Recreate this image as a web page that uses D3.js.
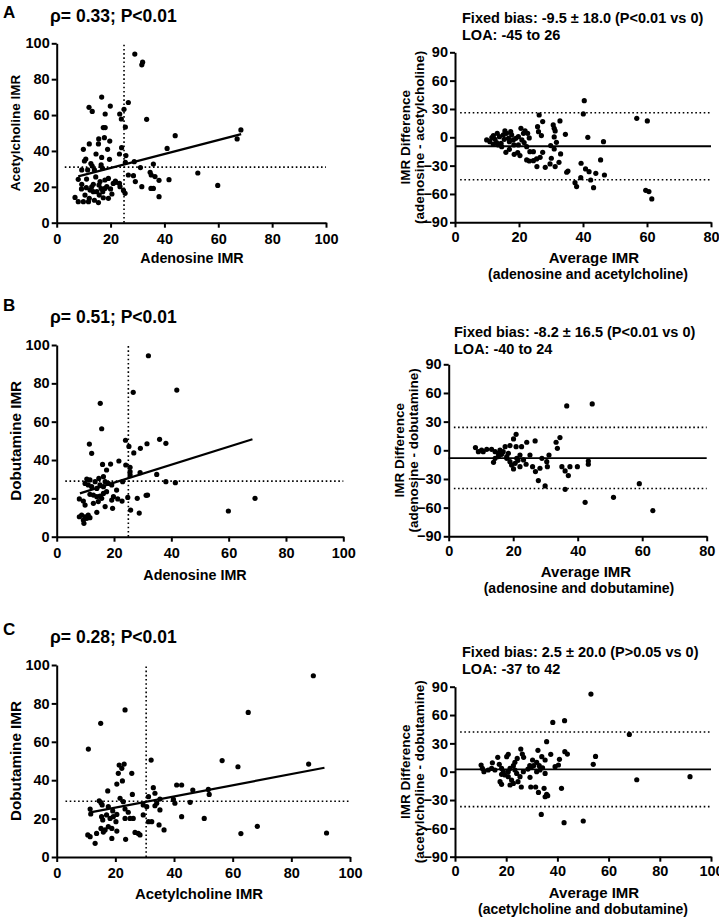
<!DOCTYPE html>
<html><head><meta charset="utf-8">
<script src="https://cdn.jsdelivr.net/npm/d3@7"></script>
<style>body{margin:0;background:#fff} svg{display:block}</style>
</head><body><svg id="c" width="719" height="918"></svg>
<script>
// ---------------- DATA ----------------
// Panel A: correlation (x = adenosine IMR, y = acetylcholine IMR)
const corrA = [[29,94],[31.6,88],[31.9,89.5],[16.7,70],[12,64.3],[13.2,62],[19.9,65],[26.6,67],[18,60.6],[23.4,60.6],[25,63.2],[24,57.8],[33.4,57.6],[17.3,53],[18,53],[25.5,53.3],[17.7,47.4],[15.6,46.7],[19.7,45.5],[12.1,43.9],[15.5,43.9],[44,48.5],[68.4,51.7],[67,46.7],[41,41.4],
[9.9,40.9],[18.9,40.9],[24.1,41.8],[14.6,38.3],[23.3,38.3],[25.7,37.4],[10.8,35.5],[16.7,36.4],[19.6,35.3],[10.3,34.4],[16.5,32.2],[13.2,31.6],[28.8,34],[25.5,33.6],[11.5,29.4],[9.3,29.4],[14,29.4],[17,30.3],[31.1,30.7],[35.9,32.7],[26.6,26.6],[28.5,26.2],[34.7,28.1],[35.1,26.6],[36.5,25.7],[38,23.6],[41.7,24],[52.4,27.7],[29.2,22.9],[8,24.2],[11.1,24.3],[19.2,24.7],[21.8,23.2],[23.3,21.9],[6.8,14.1],[8,11.7],[9.9,11.7],[11.8,11.7],[10.5,15.4],[9.2,18.8],[12.4,18.2],[13.6,17.3],[14.9,17.3],[15.8,15.4],[17.1,17.3],[17.9,19.1],[18.6,20.1],[19.2,13.6],[20,18.8],[24.8,18],[25.4,16.4],[23.5,20.1],[31.6,20.1],[35,19.1],[35.9,19.1],[38,14.5],[59.8,20.8],[9.3,21.4],[13.6,21.4],[15.7,21],[12.1,13.6],[15.5,11.2],[17.3,13.9],[21,21.9],[16.1,22.9],[17.9,23.8],[14,12.5],[13,20],[11,19.5],[16.5,19],[20.5,16],[22,22.5],[12.7,33],[14.5,25.5]];
const regA = [[8,25.8],[68.5,49.4]];
const medianA = [25, 31];   // vertical (x) and horizontal (y) dotted reference lines

// Panel A: Bland-Altman (x = average IMR, y = difference)
const baA = [[40.4,38.8],[40.1,24.7],[26.3,23.6],[27.4,16.6],[25.8,11.3],[26.1,6],[27,1.8],[30.7,13.1],[31,9.5],[31.3,6.7],[32.8,17.3],[34.5,3.2],[31,0.4],[31.7,-5.3],[31,-12.4],[33,-17.6],[29.9,-8.8],[32.5,-26.5],[31.3,-31],[29.7,-28.2],[28.2,-31.8],[25.6,-31],[30.1,-22.2],[35.3,-35.7],[34.9,-37],[27.4,-15.9],[26.6,-21.2],[25.5,-22.9],[24.5,-24.7],[23.2,-25.1],[22.4,-24],[23.4,-15.2],[24.5,-15.2],[22.4,-9.9],[21.6,-5.6],[19.6,-16.2],[20.3,-19.4],[18.5,-18],[20.6,9.5],[21.9,6.7],[22.7,4.2],[23.2,-0.7],[41.5,0],[46.4,-4.6],[45.5,-24],[39.4,-27.5],[40.8,-33.5],[41.9,-36.4],[44,-38.1],[42.4,-45.2],[43.3,-53.3],[46.7,-39.9],[39.3,-42.7],[37.5,-48],[38,-52.2],[56.8,20.1],[60.1,17.3],[59.6,-56.1],[60.6,-57.5],[61.5,-65.3],
[9.9,-2.8],[10.9,-4.6],[11.5,-0.4],[12,1.8],[12.5,-2.1],[13.2,4.2],[13.9,0.7],[14.4,-6.4],[15.1,2.5],[15.6,6.7],[16.1,4.2],[16.7,-1.1],[17,-4.6],[17.4,6],[17.7,2.5],[15.9,-15.9],[17,-12.7],[18.4,-8.1],[19,-1.1],[19.8,0.7],[14.6,-9.9],[13.5,-8.1],[15.4,-2.1],[18.2,-2.8],[19.8,-8.1],[13,-5.6],[12,-7.4],[21.4,4.2],[20.9,-2.8]];
const statsA = [-9.5, -45, 26];  // bias, lower LOA, upper LOA

// Panel B: correlation (x = adenosine IMR, y = dobutamine IMR)
const corrB = [[32,94.4],[41.9,76.5],[26.7,75.3],[15.2,69.6],[15.7,56.3],[11.4,48.3],[12.2,43.5],[24,50.3],[25.2,47.1],[26.9,43.7],[29.2,46.1],[31.5,48.5],[35.9,50.8],[38.1,48.7],[21.7,39.5],[18.8,37.9],[16,37.7],[17.4,34.8],[24.1,37.4],[25.6,36.2],[25.6,33.9],[25.6,32.2],[29.1,33.4],[34.9,32.5],[38.1,28.7],[41.4,28.2],[10.5,30.1],[11.6,29.6],[13.4,28.7],[14.7,30.4],[16.3,31.3],[16.9,28.7],[18,27.8],[19.2,27],[15.1,27],[16.3,26.1],[14,25.2],[12.2,26.1],[9.9,27.8],[11,27],[20.9,24.3],[23,28.7],[17.4,23.5],[16.3,22.6],[15.1,21.2],[12.8,21.7],[11.6,22.1],[21.3,19.7],[19.8,20.9],[19.2,19.1],[15.7,20],[7.9,19.7],[9.3,18.6],[9.9,16.5],[14,20.9],[14.5,18.3],[12.8,17.4],[16.9,15.7],[19.5,14.8],[22.8,18.6],[24.8,20.5],[28.1,20],[31.2,21.6],[31.7,21.7],[25.8,13.9],[28.8,12.3],[8.7,11.3],[9.9,10.4],[11,11.3],[9.3,8.7],[10.5,9.6],[11.6,9.9],[9.5,7],[7.9,10.4],[14,12.7],[59.9,13.4],[69.2,20]];
const regB = [[8.1,22.6],[68.3,50.8]];
const medianB = [25, 29];

// Panel B: Bland-Altman
const baB = [[36.6,46.4],[44.5,48.5],[20.9,16.7],[20.1,11.9],[26.8,9.8],[24.2,8.4],[22.6,3.8],[20.9,3.8],[19,4.9],[17.5,3.8],[33.3,8.4],[34.5,13.3],[33.7,2.1],[8.3,2.8],[9.2,-1.4],[10.2,0.3],[10.7,-1.4],[11.8,1],[13.3,1],[14.4,-1.4],[15.4,-3.1],[15.9,0.3],[13.9,-12.6],[14.4,-8.4],[15.4,-6.6],[16.4,-4.2],[16.9,-1.4],[18,-6.6],[18.5,-3.1],[19,-11.9],[19.5,-15.3],[20.1,-19.5],[20.6,-13.6],[21.1,-8.4],[22.1,-4.9],[22.1,-17.1],[23.2,-10.1],[24,-14.6],[25.2,-4.9],[26,-17.1],[26.9,-22.3],[28.3,-18.8],[27.8,-31.7],[29.9,-37.3],[28.9,-8.4],[30.4,-11.9],[30.6,-17.1],[31.1,-4.9],[35.1,-17.1],[36.1,-21.6],[37.1,-26.5],[37.6,-17.1],[39.9,-17.1],[36.1,-40.8],[43.3,-11.2],[43.3,-14.6],[42.3,-54.4],[51.1,-49.2],[59.1,-34.9],[63.3,-63.1],[18,-8.4],[21.5,-10.5]];
const statsB = [-8.2, -40, 24];

// Panel C: correlation (x = acetylcholine IMR, y = dobutamine IMR)
const corrC = [[87.5,94.4],[23.3,76.6],[15,69.6],[65.3,75.3],[10.8,56.2],[32.2,50.5],[56.4,50.2],[61.8,47],[85.9,48.4],[21.3,47.9],[23,48.4],[22.2,46.2],[21,43.6],[25.6,43.6],[22.4,39.6],[20.5,38],[40.9,37.5],[42.6,37.5],[32.95,36.1],[17.4,34.4],[25.8,32.6],[33.5,33.2],[46.4,34.9],[51.7,35.2],[52,32.6],[31.3,31.4],[35.2,30.2],[21.6,30.6],[22.7,28.8],[14.5,29.3],[15.1,28.3],[15.5,27.1],[39.8,30],[40.3,28],[45.5,28.5],[34.1,28],[33.5,26.7],[29.5,27.1],[30.7,26.2],[35.2,24.5],[11.4,25],[11.6,22.4],[17.6,26.2],[19.1,24],[20.5,22.2],[23.3,25],[24.4,23.3],[15.3,21],[17,21.9],[18.2,20.1],[19.3,21],[15.7,19.3],[20.2,18.4],[23.3,20.1],[25,20.1],[26.1,20.1],[29.5,21.9],[42.6,21],[50.3,20.1],[31.3,18.4],[32.4,18.4],[34.9,16.7],[36.6,14.1],[15.1,14.9],[16.5,14.1],[17.6,15.8],[18.8,14.9],[20.5,13.5],[15.9,13],[26.7,12.8],[28.4,11.5],[27.8,12.3],[10.6,11.5],[11.4,10.6],[13.1,7.1],[13.6,12.3],[18.8,9.7],[23.5,9.2],[68.4,16],[62.8,12.2],[92,12.5]];
const regC = [[11,23.1],[91.3,46.5]];
const medianC = [30.5, 29];

// Panel C: Bland-Altman
const baC = [[53.1,82.2],[42.8,54],[38.2,52.2],[68.1,39.5],[35.8,31.8],[42.9,21.2],[43.9,18.7],[37.4,18.4],[32.4,22.6],[25.7,24],[26.3,18.7],[26.8,15.2],[24.3,14.1],[20.8,18.4],[20.2,15.9],[16.7,15.2],[14.6,9.5],[54.9,16.2],[54,7.8],[40.8,13.1],[39.1,5.3],[40.4,7.1],[35.2,12.4],[33.9,15.9],[30.3,12.4],[31.9,9.9],[29.2,6.4],[30.7,6.4],[32.9,6.4],[34.2,4.2],[35.2,-1.8],[31.9,0],[33.2,1.8],[29.9,5.3],[28.5,2.8],[10.2,7.1],[10.7,3.5],[11.3,0],[13,1.8],[14.3,3.5],[15.6,1.8],[17.3,7.8],[18.2,3.5],[18.9,0],[19.5,-3.5],[18.2,-2.8],[20.8,0],[21.5,3.5],[22.8,6.4],[23.4,1.8],[24.1,-1.8],[25.4,-5.3],[24.6,-10.6],[22.8,-12.4],[22.1,-8.8],[20.8,-5.3],[21.5,-14.1],[17.6,-10.6],[18.2,-13.4],[25.9,-16.2],[29.6,-16.2],[31.5,-16.2],[29.3,-6],[32.6,-21.9],[34.8,-17.6],[35.8,-24],[35.2,-26.5],[36.2,-25.4],[41.6,-17.6],[33.7,-45.2],[42.6,-54],[50.1,-52.2],[71,-8.5],[91.8,-5.3],[26.7,0],[23.4,9.9]];
const statsC = [2.5, -37, 42];

// Tick labels
const corrTicks = [0, 20, 40, 60, 80, 100];
const diffTicks = [-90, -60, -30, 0, 30, 60, 90];
const avgTicksAB = [0, 20, 40, 60, 80];
const avgTicksC = [0, 20, 40, 60, 80, 100];

// Texts
const letters = ["A", "B", "C"];
const corrTitles = ["ρ= 0.33; P<0.01", "ρ= 0.51; P<0.01", "ρ= 0.28; P<0.01"];
const corrYLabels = ["Acetylcholine IMR", "Dobutamine IMR", "Dobutamine IMR"];
const corrXLabels = ["Adenosine IMR", "Adenosine IMR", "Acetylcholine IMR"];
const baTitles1 = ["Fixed bias: -9.5 ± 18.0 (P<0.01 vs 0)", "Fixed bias: -8.2 ± 16.5 (P<0.01 vs 0)", "Fixed bias: 2.5 ± 20.0 (P>0.05 vs 0)"];
const baTitles2 = ["LOA: -45 to 26", "LOA: -40 to 24", "LOA: -37 to 42"];
const baYLabel2 = ["(adenosine - acetylcholine)", "(adenosine - dobutamine)", "(acetylcholine - dobutamine)"];
const baXLabel2 = ["(adenosine and acetylcholine)", "(adenosine and dobutamine)", "(acetylcholine and dobutamine)"];

// ---------------- LAYOUT ----------------
const FONT = '"Liberation Sans", Arial, Helvetica, sans-serif';
const svg = d3.select("#c");

const corrLayout = [
  {x0:56.7, x1:326, yb:222.7, yt:43.3, letterY:18, titleY:22, yLabX:20, yLabSize:13.5, xLabX:192, xLabY:263, xLabSize:14.3},
  {x0:56.7, x1:343.3, yb:536.7, yt:345, letterY:311, titleY:323, yLabX:20.5, yLabSize:15.2, xLabX:195, xLabY:580, xLabSize:14.3},
  {x0:56.7, x1:350, yb:857, yt:665, letterY:635, titleY:643, yLabX:20.5, yLabSize:15.2, xLabX:199, xLabY:899, xLabSize:14.9}
];
const baLayout = [
  {x0:455, x1:711, yb:222.3, yt:52.3, tx:462, t1:23, t2:40, yl1:410, yl2:424, xl1:594, xl2:588, xy1:263, xy2:279},
  {x0:448.7, x1:706.7, yb:536.3, yt:364.3, tx:454, t1:337, t2:353.5, yl1:404, yl2:418, xl1:586, xl2:579, xy1:577, xy2:593},
  {x0:455, x1:711, yb:856.7, yt:686.7, tx:462, t1:657, t2:673.5, yl1:410, yl2:424, xl1:594, xl2:583, xy1:897.5, xy2:913.5}
];

function styleAxis(g){
  g.attr("font-family", FONT).attr("font-size", 14.5).attr("font-weight", "bold");
  g.select(".domain").attr("stroke", "#000").attr("stroke-width", 2);
  g.selectAll(".tick line").attr("stroke", "#000").attr("stroke-width", 2);
  g.selectAll(".tick text").attr("fill", "#000");
}
function txt(x, y, s, size, anchor, rot){
  const t = svg.append("text").attr("font-family", FONT).attr("font-weight", "bold")
    .attr("font-size", size).attr("fill", "#000").attr("text-anchor", anchor || "start").text(s);
  if (rot) t.attr("transform", `translate(${x},${y}) rotate(-90)`);
  else t.attr("x", x).attr("y", y);
  return t;
}
const DOT = "1.6,2.6";

function drawCorr(i, pts, reg, med){
  const L = corrLayout[i];
  const x = d3.scaleLinear().domain([0, 100]).range([L.x0, L.x1]);
  const y = d3.scaleLinear().domain([0, 100]).range([L.yb, L.yt]);
  const g = svg.append("g");
  g.append("line").attr("x1", x(med[0])).attr("x2", x(med[0])).attr("y1", y(0)).attr("y2", y(100))
    .attr("stroke", "#000").attr("stroke-width", 1.6).attr("stroke-dasharray", DOT);
  g.append("line").attr("x1", x(3)).attr("x2", x(100)).attr("y1", y(med[1])).attr("y2", y(med[1]))
    .attr("stroke", "#000").attr("stroke-width", 1.6).attr("stroke-dasharray", DOT);
  g.selectAll("circle").data(pts).join("circle")
    .attr("cx", d => x(d[0])).attr("cy", d => y(d[1])).attr("r", 2.6).attr("fill", "#000");
  g.append("path").attr("d", d3.line().x(d => x(d[0])).y(d => y(d[1]))(reg))
    .attr("stroke", "#000").attr("stroke-width", 2.2).attr("fill", "none");
  const ax = svg.append("g").attr("transform", `translate(0,${L.yb})`)
    .call(d3.axisBottom(x).tickValues(corrTicks).tickSize(5).tickSizeOuter(0).tickPadding(6));
  styleAxis(ax);
  const ay = svg.append("g").attr("transform", `translate(${L.x0},0)`)
    .call(d3.axisLeft(y).tickValues(corrTicks).tickSize(5).tickSizeOuter(0).tickPadding(2));
  styleAxis(ay);
  txt(3, L.letterY, letters[i], 17);
  txt(50, L.titleY, corrTitles[i], 17.5);
  txt(L.yLabX, (L.yb + L.yt) / 2, corrYLabels[i], L.yLabSize, "middle", true);
  txt(L.xLabX, L.xLabY, corrXLabels[i], L.xLabSize, "middle");
}

function drawBA(i, pts, stats, xmax, xticks){
  const L = baLayout[i];
  const x = d3.scaleLinear().domain([0, xmax]).range([L.x0, L.x1]);
  const y = d3.scaleLinear().domain([-90, 90]).range([L.yb, L.yt]);
  const g = svg.append("g");
  g.append("line").attr("x1", x(0)).attr("x2", x(xmax)).attr("y1", y(stats[0])).attr("y2", y(stats[0]))
    .attr("stroke", "#000").attr("stroke-width", 1.8);
  [stats[1], stats[2]].forEach(v => {
    g.append("line").attr("x1", x(xmax * 0.02)).attr("x2", x(xmax)).attr("y1", y(v)).attr("y2", y(v))
      .attr("stroke", "#000").attr("stroke-width", 1.6).attr("stroke-dasharray", DOT);
  });
  g.selectAll("circle").data(pts).join("circle")
    .attr("cx", d => x(d[0])).attr("cy", d => y(d[1])).attr("r", 2.6).attr("fill", "#000");
  const ax = svg.append("g").attr("transform", `translate(0,${L.yb})`)
    .call(d3.axisBottom(x).tickValues(xticks).tickSize(5).tickSizeOuter(0).tickPadding(4));
  styleAxis(ax);
  const ay = svg.append("g").attr("transform", `translate(${L.x0},0)`)
    .call(d3.axisLeft(y).tickValues(diffTicks).tickSize(5).tickSizeOuter(0).tickPadding(2));
  styleAxis(ay);
  txt(L.tx, L.t1, baTitles1[i], 14.5);
  txt(L.tx, L.t2, baTitles2[i], 14.5);
  const yc = (L.yb + L.yt) / 2;
  txt(L.yl1, yc, "IMR Difference", 13.5, "middle", true);
  txt(L.yl2, yc, baYLabel2[i], 13.5, "middle", true);
  txt(L.xl1, L.xy1, "Average IMR", 15, "middle");
  txt(L.xl2, L.xy2, baXLabel2[i], 14, "middle");
}

drawCorr(0, corrA, regA, medianA);
drawCorr(1, corrB, regB, medianB);
drawCorr(2, corrC, regC, medianC);
drawBA(0, baA, statsA, 80, avgTicksAB);
drawBA(1, baB, statsB, 80, avgTicksAB);
drawBA(2, baC, statsC, 100, avgTicksC);
</script>
</body></html>
